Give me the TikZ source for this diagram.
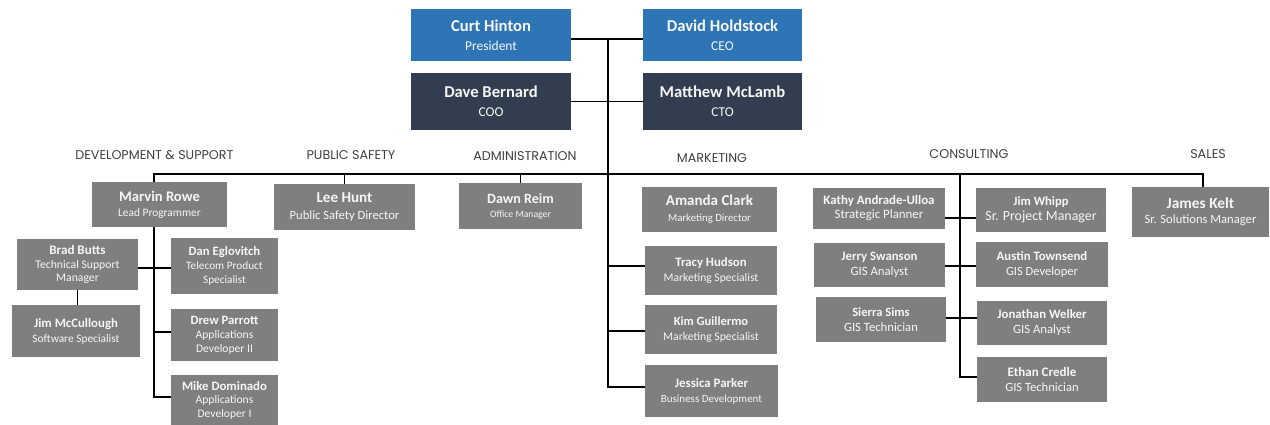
\documentclass[tikz,border=0pt]{standalone}
\usepackage{fontspec}
\setmainfont{Carlito}
\newfontfamily\deptfont{Poppins}
\definecolor{boxgray}{RGB}{127,127,127}
\definecolor{execblue}{RGB}{46,117,182}
\definecolor{execnavy}{RGB}{50,62,79}
\definecolor{cardtext}{RGB}{246,246,246}
\definecolor{depttext}{RGB}{64,64,64}
% one bold name line and plain role lines, each at its own size
\newcommand\nm[2]{{\fontsize{#1}{#1}\bfseries\selectfont #2}}
\newcommand\rl[2]{{\fontsize{#1}{#1}\selectfont #2}}
\tikzset{
  card/.style={rectangle, fill=boxgray, text=cardtext, inner sep=1pt,
    align=center, font=\fontsize{12}{15}\selectfont},
  exec/.style={card, fill=execblue, font=\fontsize{12}{19}\selectfont},
  execdark/.style={exec, fill=execnavy},
  dept/.style={text=depttext, inner sep=0pt, font=\deptfont\fontsize{12.7}{14}\selectfont},
  link/.style={draw=black, line width=1.7pt}
}
\begin{document}
\begin{tikzpicture}[x=1pt,y=-1pt]
\useasboundingbox (0,0) rectangle (1270,425);
\fill[white] (0,0) rectangle (1270,425);

% executives
\node[exec, minimum width=160pt, minimum height=52pt] (curt) at (491,35)
  {\nm{16.6}{Curt Hinton}\\\rl{13.5}{President}};
\node[exec, minimum width=159pt, minimum height=52pt] (ceo) at (722.5,35)
  {\nm{16.6}{David Holdstock}\\\rl{13.5}{CEO}};
\node[execdark, minimum width=160pt, minimum height=57pt] (coo) at (491,101.5)
  {\nm{16.6}{Dave Bernard}\\\rl{13.5}{COO}};
\node[execdark, minimum width=159pt, minimum height=57pt] (cto) at (722.5,101.5)
  {\nm{16.6}{Matthew McLamb}\\\rl{13.5}{CTO}};

% division headings
\node[dept] (hdev) at (154.5,155) {DEVELOPMENT \& SUPPORT};
\node[dept] (hps) at (351,155) {PUBLIC SAFETY};
\node[dept] (hadm) at (525,156) {ADMINISTRATION};
\node[dept] (hmkt) at (712,158) {MARKETING};
\node[dept] (hcon) at (969,154) {CONSULTING};
\node[dept] (hsal) at (1208,154) {SALES};

% development & support
\node[card, minimum width=135pt, minimum height=45pt] (marvin) at (159.5,204.5)
  {\nm{14.6}{Marvin Rowe}\\\rl{11.4}{Lead Programmer}};
\node[card, minimum width=121pt, minimum height=51pt, font=\fontsize{12}{13.5}\selectfont] (brad) at (77.5,264.5)
  {\nm{13.1}{Brad Butts}\\\rl{11.7}{Technical Support}\\\rl{11.7}{Manager}};
\node[card, minimum width=107pt, minimum height=56pt, font=\fontsize{12}{14}\selectfont] (dan) at (224.5,266)
  {\nm{12.7}{Dan Eglovitch}\\\rl{11.3}{Telecom Product}\\\rl{11.3}{Specialist}};
\node[card, minimum width=128pt, minimum height=52pt] (jimm) at (76,331)
  {\nm{12.8}{Jim McCullough}\\\rl{11.4}{Software Specialist}};
\node[card, minimum width=107pt, minimum height=52pt, font=\fontsize{12}{14}\selectfont] (drew) at (224.5,335)
  {\nm{12.7}{Drew Parrott}\\\rl{11.6}{Applications}\\\rl{11.6}{Developer II}};
\node[card, minimum width=107pt, minimum height=50pt, font=\fontsize{12}{13.5}\selectfont] (mike) at (224.5,400)
  {\nm{12.8}{Mike Dominado}\\\rl{11.6}{Applications}\\\rl{11.6}{Developer I}};

% public safety, administration
\node[card, minimum width=141pt, minimum height=46pt, font=\fontsize{12}{17}\selectfont] (lee) at (344.5,207)
  {\nm{15.1}{Lee Hunt}\\\rl{12.6}{Public Safety Director}};
\node[card, minimum width=123pt, minimum height=46pt, font=\fontsize{12}{14}\selectfont] (dawn) at (520.5,206)
  {\nm{14.1}{Dawn Reim}\\\rl{9.7}{Office Manager}};

% marketing
\node[card, minimum width=135pt, minimum height=45pt, font=\fontsize{12}{16}\selectfont] (amanda) at (709.5,209.5)
  {\nm{15}{Amanda Clark}\\\rl{10.8}{Marketing Director}};
\node[card, minimum width=132pt, minimum height=49pt] (tracy) at (711,270.5)
  {\nm{12.8}{Tracy Hudson}\\\rl{11.6}{Marketing Specialist}};
\node[card, minimum width=132pt, minimum height=49pt] (kim) at (711,329.5)
  {\nm{12.5}{Kim Guillermo}\\\rl{11.7}{Marketing Specialist}};
\node[card, minimum width=133pt, minimum height=52pt] (jessica) at (711.5,391)
  {\nm{12.9}{Jessica Parker}\\\rl{11}{Business Development}};

% consulting
\node[card, minimum width=132pt, minimum height=41pt, font=\fontsize{12}{14}\selectfont] (kathy) at (879,208.5)
  {\nm{12.9}{Kathy Andrade-Ulloa}\\\rl{12.9}{Strategic Planner}};
\node[card, minimum width=130pt, minimum height=44pt] (jimw) at (1041,210)
  {\nm{12.6}{Jim Whipp}\\\rl{13.9}{Sr. Project Manager}};
\node[card, minimum width=131pt, minimum height=44pt] (jerry) at (879.5,265)
  {\nm{12.8}{Jerry Swanson}\\\rl{12.7}{GIS Analyst}};
\node[card, minimum width=132pt, minimum height=45pt] (austin) at (1042,264.5)
  {\nm{12.8}{Austin Townsend}\\\rl{12.5}{GIS Developer}};
\node[card, minimum width=130pt, minimum height=45pt] (sierra) at (881,319.5)
  {\nm{12.6}{Sierra Sims}\\\rl{12.7}{GIS Technician}};
\node[card, minimum width=130pt, minimum height=44pt] (jonathan) at (1042,323)
  {\nm{12.8}{Jonathan Welker}\\\rl{12.7}{GIS Analyst}};
\node[card, minimum width=130pt, minimum height=45pt] (ethan) at (1042,379.5)
  {\nm{13}{Ethan Credle}\\\rl{12.6}{GIS Technician}};

% sales
\node[card, minimum width=137pt, minimum height=50pt] (james) at (1200.5,212)
  {\nm{15.4}{James Kelt}\\\rl{12.6}{Sr. Solutions Manager}};

% junction points of the connector lines
\coordinate (exectop) at (608,39);
\coordinate (spine) at (608,174);
\coordinate (devx) at (154,174);
\coordinate (salesx) at (1203,174);
\coordinate (devrow1) at (154,268);
\coordinate (devrow2) at (154,332);
\coordinate (devrow3) at (154,397);
\coordinate (mktrow1) at (608,266);
\coordinate (mktrow2) at (608,331);
\coordinate (mktrow3) at (608,387);
\coordinate (conx) at (960,174);
\coordinate (conrow1) at (960,218);
\coordinate (conrow2) at (960,266);
\coordinate (conrow3) at (960,318);
\coordinate (conrow4) at (960,377);

% executive block
\draw[link] (curt.east |- exectop) -- (ceo.west |- exectop);
\draw[link] (coo.east) -- (cto.west);
\draw[link] (exectop) -- (spine);

% division bar
\draw[link] (devx |- marvin.north) -- (devx) -- (salesx) -- (salesx |- james.north);
\draw[link] (lee.north) -- (lee.north |- spine);
\draw[link] (dawn.north) -- (dawn.north |- spine);

% development & support
\draw[link] (devx |- marvin.south) -- (devrow3) -- (mike.west |- devrow3);
\draw[link] (brad.east |- devrow1) -- (dan.west |- devrow1);
\draw[link] (devrow2) -- (drew.west |- devrow2);
\draw[link] (brad.south) -- (brad.south |- jimm.north);

% marketing
\draw[link] (spine) -- (mktrow3) -- (jessica.west |- mktrow3);
\draw[link] (mktrow1) -- (tracy.west |- mktrow1);
\draw[link] (mktrow2) -- (kim.west |- mktrow2);

% consulting
\draw[link] (conx) -- (conrow4) -- (ethan.west |- conrow4);
\draw[link] (kathy.east |- conrow1) -- (jimw.west |- conrow1);
\draw[link] (jerry.east |- conrow2) -- (austin.west |- conrow2);
\draw[link] (sierra.east |- conrow3) -- (jonathan.west |- conrow3);
\end{tikzpicture}
\end{document}
